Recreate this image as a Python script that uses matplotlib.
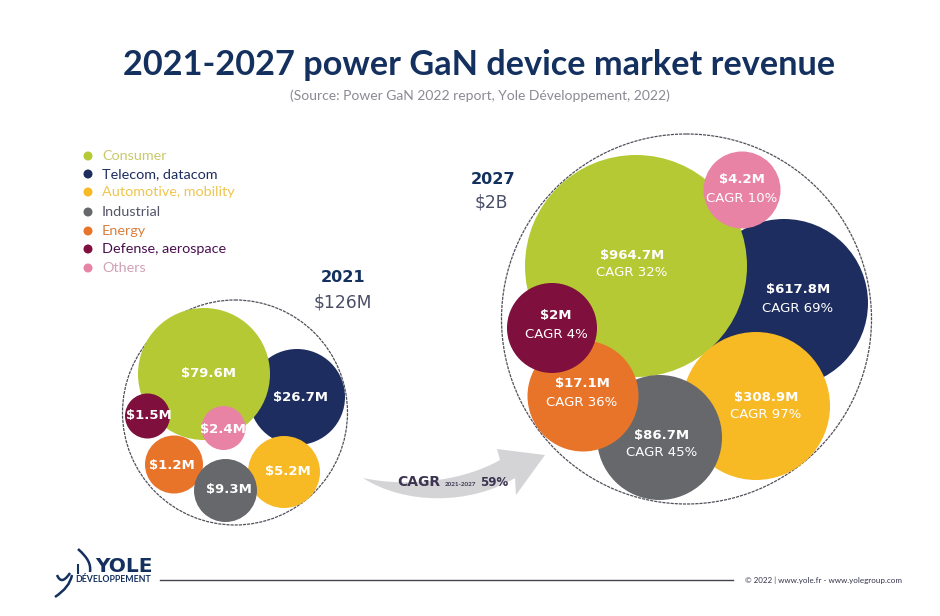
import matplotlib
matplotlib.use('Agg')
import matplotlib.pyplot as plt
from matplotlib.patches import Circle, PathPatch
from matplotlib.path import Path

plt.rcParams['font.family'] = ['Lato', 'DejaVu Sans']

segments = ['Consumer', 'Telecom, datacom', 'Automotive, mobility', 'Industrial',
            'Energy', 'Defense, aerospace', 'Others']
labels_2021 = ['$79.6M', '$26.7M', '$5.2M', '$9.3M', '$1.2M', '$1.5M', '$2.4M']
labels_2027 = ['$964.7M', '$617.8M', '$308.9M', '$86.7M', '$17.1M', '$2M', '$4.2M']
cagr_2027 = ['CAGR 32%', 'CAGR 69%', 'CAGR 97%', 'CAGR 45%', 'CAGR 36%', 'CAGR 4%', 'CAGR 10%']

colors = ['#b5c934', '#1d2d5f', '#f7b924', '#67686b', '#e8742a', '#7f0f3c', '#e883a6']
legend_text_colors = ['#c9c96a', '#1d2d5f', '#efc550', '#55556a', '#d9803f', '#4a1050', '#d0a0b4']

# layout, in reference pixels
x_2021 = [204, 297, 284, 225.5, 174, 147.5, 223.5]
y_2021 = [374, 397, 472, 490.5, 464.5, 416, 428]
r_2021 = [66, 48, 36, 31.5, 29, 22.5, 22]
tx_2021 = [208, 300, 288, 229, 172, 149, 223]
ty_2021 = [373, 398, 472, 490, 465, 416, 429]
order_2021 = [1, 0, 2, 4, 3, 6, 5]

x_2027 = [636, 784, 756, 659.5, 583, 552, 742]
y_2027 = [266, 303, 406, 437.5, 396, 328, 190]
r_2027 = [111, 84, 74, 62.5, 55.5, 45, 38.5]
tx_2027 = [632, 798, 766, 662, 582, 556, 742]
ty_2027 = [255, 289, 397, 435, 384, 315, 180]
cy_2027 = [273, 308, 415, 453, 402, 334, 199]
order_2027 = [1, 0, 2, 3, 4, 5, 6]

legend_y = [156, 174, 192, 212, 231, 249, 268]

fig = plt.figure(figsize=(9.4, 6.16), dpi=100)
ax = fig.add_axes([0, 0, 1, 1])
ax.set_xlim(0, 940)
ax.set_ylim(616, 0)
ax.axis('off')

navy = '#14305f'
wide = ['DejaVu Sans']
ax.text(479, 65, '2021-2027 power GaN device market revenue', ha='center', va='center',
        fontsize=24.7, fontweight='bold', color=navy)
ax.text(480, 96, '(Source: Power GaN 2022 report, Yole Développement, 2022)', ha='center',
        va='center', fontsize=10, color='#8a8a92')

for y, c, tc, s in zip(legend_y, colors, legend_text_colors, segments):
    ax.add_patch(Circle((88, y), 4.5, color=c, lw=0))
    ax.text(102, y, s, va='center', fontsize=10.4, color=tc)

# outer rings
ax.add_patch(Circle((235, 412.5), 112.5, fill=False, ec='#50505a', lw=0.9, ls=(0, (2.5, 0.8))))
ax.add_patch(Circle((686.5, 319), 185, fill=False, ec='#50505a', lw=0.9, ls=(0, (2.5, 0.8))))

for z, i in enumerate(order_2021):
    ax.add_patch(Circle((x_2021[i], y_2021[i]), r_2021[i], color=colors[i], lw=0, zorder=2 + z * 0.01))
    ax.text(tx_2021[i], ty_2021[i], labels_2021[i], ha='center', va='center', fontsize=9.5,
            fontweight='bold', color='white', family=wide, zorder=3)

for z, i in enumerate(order_2027):
    ax.add_patch(Circle((x_2027[i], y_2027[i]), r_2027[i], color=colors[i], lw=0, zorder=2 + z * 0.01))
    ax.text(tx_2027[i], ty_2027[i], labels_2027[i], ha='center', va='center', fontsize=9.5,
            fontweight='bold', color='white', family=wide, zorder=3)
    ax.text(tx_2027[i], cy_2027[i], cagr_2027[i], ha='center', va='center', fontsize=9.5,
            color='white', family=wide, zorder=3)

ax.text(343, 278, '2021', ha='center', va='center', fontsize=11.6, fontweight='bold', color=navy, family=wide)
ax.text(343, 302, '$126M', ha='center', va='center', fontsize=12.3, color='#4a4f66', family=wide)
ax.text(493, 180, '2027', ha='center', va='center', fontsize=11.6, fontweight='bold', color=navy, family=wide)
ax.text(491, 202, '$2B', ha='center', va='center', fontsize=12.3, color='#4a4f66', family=wide)

# growth arrow
arrow_pts = [(363, 478), (405, 505), (470, 505), (515, 478), (516, 495), (545, 455),
             (497, 449), (500, 460), (465, 480), (410, 488), (363, 478)]
arrow_codes = [Path.MOVETO, Path.CURVE4, Path.CURVE4, Path.CURVE4, Path.LINETO, Path.LINETO,
               Path.LINETO, Path.LINETO, Path.CURVE4, Path.CURVE4, Path.CURVE4]
ax.add_patch(PathPatch(Path(arrow_pts, arrow_codes), fc='#d4d4d6', ec='none'))
ax.text(397, 482, 'CAGR', va='center', fontsize=10, fontweight='bold', color='#3b3350', family=wide)
ax.text(445, 485, '2021-2027', va='center', fontsize=4.5, fontweight='bold', color='#3b3350')
ax.text(480, 482, '59%', va='center', fontsize=8.5, fontweight='bold', color='#3b3350', family=wide)

# footer
ax.plot([160, 733], [580, 580], color='#44444c', lw=1)
ax.text(95, 566, 'YOLE', va='center', fontsize=14.5, fontweight='bold', color=navy, family=wide)
ax.text(75, 580, 'DÉVELOPPEMENT', va='center', fontsize=6.3, fontweight='bold', color=navy)
swoosh_a = Path([(57, 575), (60, 582), (64, 582), (70, 573)],
                [Path.MOVETO, Path.CURVE4, Path.CURVE4, Path.CURVE4])
swoosh_b = Path([(55, 597), (65, 590), (70, 584), (72, 575)],
                [Path.MOVETO, Path.CURVE4, Path.CURVE4, Path.CURVE4])
swoosh_c = Path([(78, 549), (88, 558), (91, 564), (90, 572)],
                [Path.MOVETO, Path.CURVE4, Path.CURVE4, Path.CURVE4])
for p in (swoosh_a, swoosh_b, swoosh_c):
    ax.add_patch(PathPatch(p, fc='none', ec=navy, lw=1.8))
ax.plot([78, 78], [565, 573], color=navy, lw=1.5)
ax.text(745, 580, '© 2022 | www.yole.fr - www.yolegroup.com', va='center', fontsize=5.8,
        color='#33334a')

fig.savefig('out.png', dpi=100)
